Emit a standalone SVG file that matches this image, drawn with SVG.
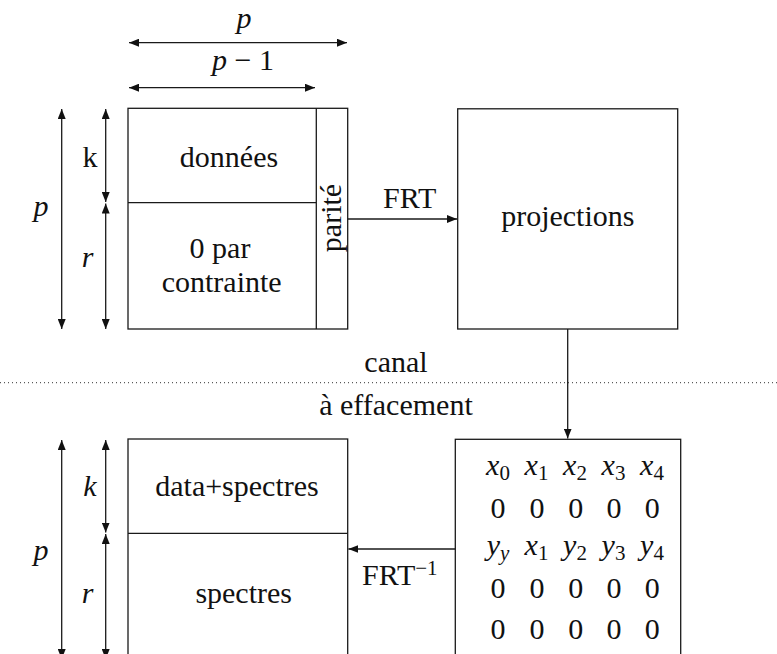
<svg xmlns="http://www.w3.org/2000/svg" width="777" height="654" viewBox="0 0 777 654">
<style>
.ln{stroke:#1a1a1a;stroke-width:1.3;fill:none}
.bx{stroke:#1a1a1a;stroke-width:1.3;fill:#fff}
.t{font-family:'Liberation Serif','DejaVu Serif',serif;font-size:30px;fill:#111;text-anchor:middle}
.m{font-style:italic}
.sub{font-size:21px;font-style:normal}
.dot{stroke:#333;stroke-width:1;stroke-dasharray:1 3;fill:none}
</style>
<defs>
<marker id="ah" viewBox="0 0 10 8" refX="10" refY="4" markerWidth="10" markerHeight="8" markerUnits="userSpaceOnUse" orient="auto-start-reverse">
<path d="M0,0 L10,4 L0,8 z" fill="#111"/>
</marker>
</defs>
<rect width="777" height="654" fill="#fff"/>

<g id="dimensions-top">
<line class="ln" x1="129" y1="42.7" x2="347" y2="42.7" marker-start="url(#ah)" marker-end="url(#ah)"/>
<text class="t m" x="244" y="28">p</text>
<line class="ln" x1="129" y1="87.7" x2="315" y2="87.7" marker-start="url(#ah)" marker-end="url(#ah)"/>
<text class="t" x="243" y="70"><tspan class="m">p</tspan> − 1</text>
<line class="ln" x1="61.7" y1="109" x2="61.7" y2="329" marker-start="url(#ah)" marker-end="url(#ah)"/>
<text class="t m" x="41" y="216">p</text>
<line class="ln" x1="105.7" y1="109" x2="105.7" y2="202" marker-start="url(#ah)" marker-end="url(#ah)"/>
<text class="t" x="90" y="167">k</text>
<line class="ln" x1="105.7" y1="203.5" x2="105.7" y2="329" marker-start="url(#ah)" marker-end="url(#ah)"/>
<text class="t m" x="87.5" y="267">r</text>
</g>

<g id="source">
<rect class="bx" x="128" y="108.3" width="219.7" height="220.7"/>
<line class="ln" x1="128" y1="202.7" x2="316.3" y2="202.7"/>
<line class="ln" x1="316.3" y1="108.3" x2="316.3" y2="329"/>
<text class="t" x="229" y="167">données</text>
<text class="t" x="220" y="258">0 par</text>
<text class="t" x="221.7" y="292">contrainte</text>
<text class="t" transform="translate(341,218) rotate(-90)" x="0" y="0">parité</text>
</g>

<g id="projections">
<rect class="bx" x="457.7" y="108.8" width="220" height="220.2"/>
<text class="t" x="567.8" y="226">projections</text>
</g>

<g id="channel">
<line class="dot" x1="0" y1="382.7" x2="777" y2="382.7"/>
<text class="t" x="396" y="372">canal</text>
<text class="t" x="396" y="415">à effacement</text>
</g>

<g id="received">
<rect class="bx" x="455.3" y="439.3" width="225.4" height="230"/>
<text class="t m" x="498" y="475">x<tspan class="sub" dy="5">0</tspan></text>
<text class="t m" x="536.5" y="475">x<tspan class="sub" dy="5">1</tspan></text>
<text class="t m" x="575" y="475">x<tspan class="sub" dy="5">2</tspan></text>
<text class="t m" x="613.5" y="475">x<tspan class="sub" dy="5">3</tspan></text>
<text class="t m" x="652" y="475">x<tspan class="sub" dy="5">4</tspan></text>
<text class="t" x="498" y="518">0</text>
<text class="t" x="537" y="518">0</text>
<text class="t" x="575.7" y="518">0</text>
<text class="t" x="614" y="518">0</text>
<text class="t" x="652.3" y="518">0</text>
<text class="t m" x="498" y="555">y<tspan class="sub" style="font-style:italic" dy="5">y</tspan></text>
<text class="t m" x="536.5" y="555">x<tspan class="sub" dy="5">1</tspan></text>
<text class="t m" x="575" y="555">y<tspan class="sub" dy="5">2</tspan></text>
<text class="t m" x="613.5" y="555">y<tspan class="sub" dy="5">3</tspan></text>
<text class="t m" x="652" y="555">y<tspan class="sub" dy="5">4</tspan></text>
<text class="t" x="498" y="598">0</text>
<text class="t" x="537" y="598">0</text>
<text class="t" x="575.7" y="598">0</text>
<text class="t" x="614" y="598">0</text>
<text class="t" x="652.3" y="598">0</text>
<text class="t" x="498" y="639">0</text>
<text class="t" x="537" y="639">0</text>
<text class="t" x="575.7" y="639">0</text>
<text class="t" x="614" y="639">0</text>
<text class="t" x="652.3" y="639">0</text>
</g>

<g id="decoded">
<rect class="bx" x="128" y="439" width="219.7" height="230"/>
<line class="ln" x1="128" y1="533.3" x2="347.7" y2="533.3"/>
<text class="t" x="237" y="496">data+spectres</text>
<text class="t" x="243.7" y="603">spectres</text>
</g>

<g id="dimensions-bottom">
<line class="ln" x1="61.7" y1="440" x2="61.7" y2="659" marker-start="url(#ah)" marker-end="url(#ah)"/>
<text class="t m" x="41" y="560">p</text>
<line class="ln" x1="105.7" y1="440" x2="105.7" y2="532.6" marker-start="url(#ah)" marker-end="url(#ah)"/>
<text class="t m" x="90" y="496">k</text>
<line class="ln" x1="105.7" y1="534" x2="105.7" y2="659" marker-start="url(#ah)" marker-end="url(#ah)"/>
<text class="t m" x="87.5" y="603">r</text>
</g>

<g id="connectors">
<line class="ln" x1="347.7" y1="219" x2="457" y2="219" marker-end="url(#ah)"/>
<text class="t" x="409.7" y="208">FRT</text>
<line class="ln" x1="567.7" y1="329" x2="567.7" y2="438.6" marker-end="url(#ah)"/>
<line class="ln" x1="455.3" y1="549" x2="348.4" y2="549" marker-end="url(#ah)"/>
<text class="t" x="362" y="585" style="text-anchor:start">FRT<tspan class="sub" dy="-10">−1</tspan></text>
</g>
</svg>
